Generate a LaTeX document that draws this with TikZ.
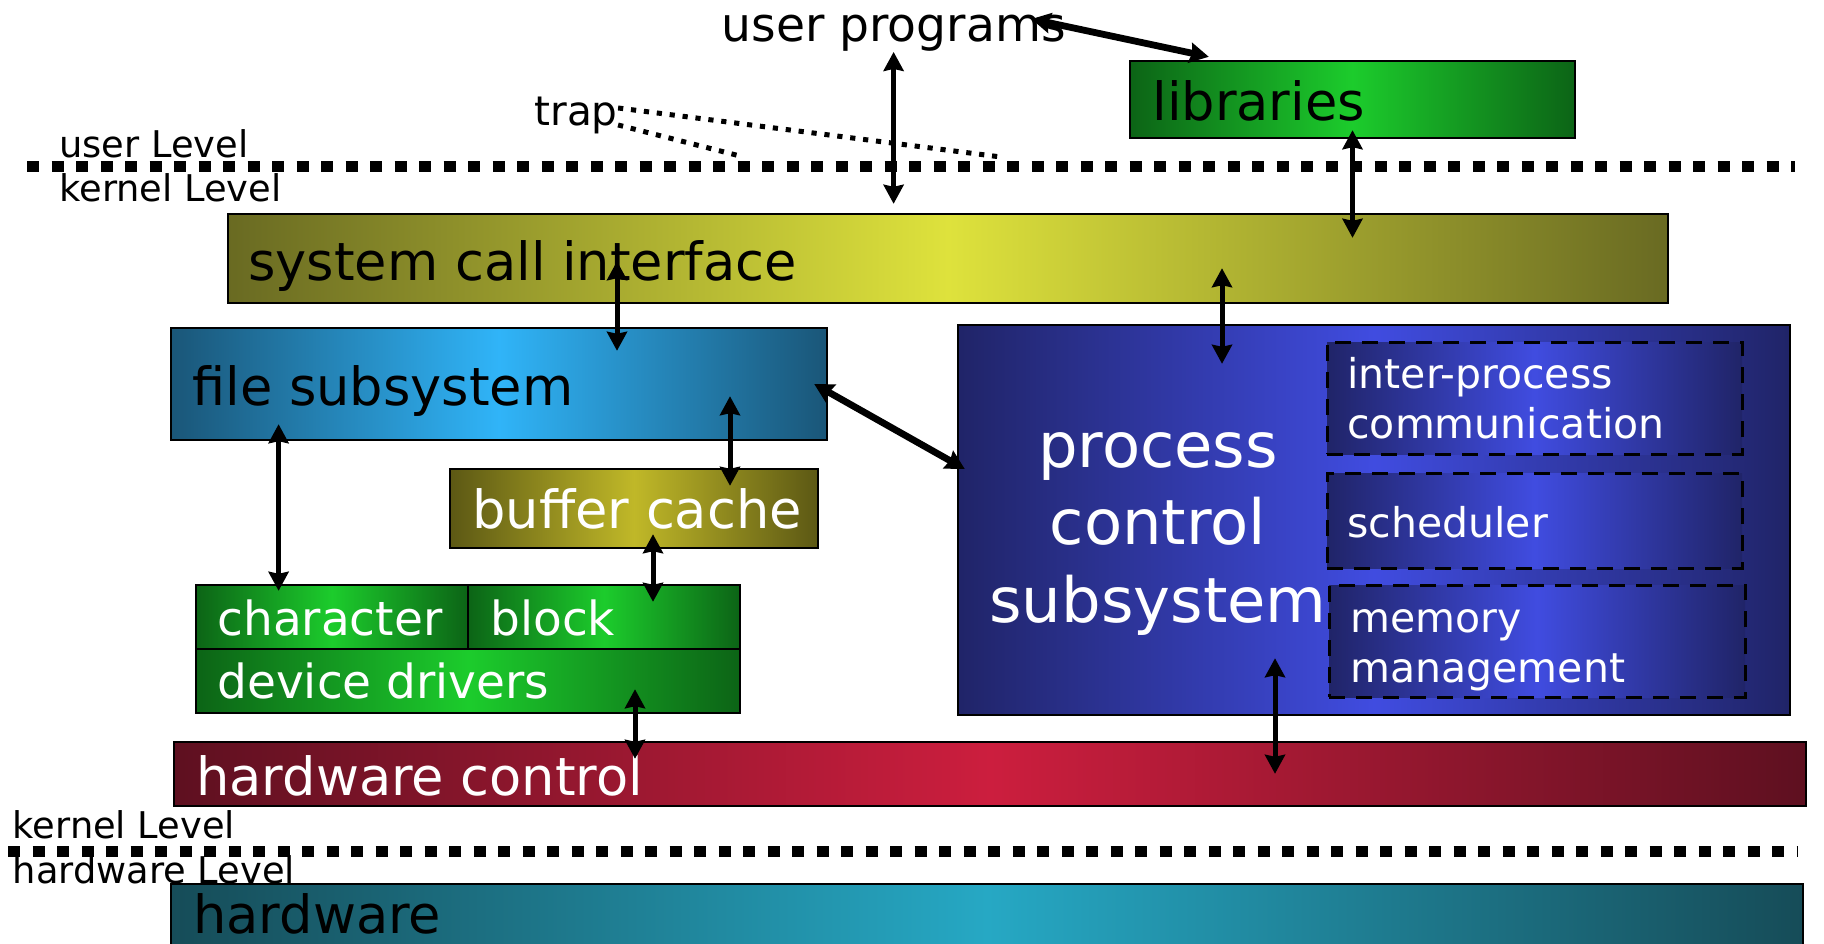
\documentclass[tikz,border=0pt]{standalone}
\usepackage{fontspec}
\setmainfont{DejaVu Sans}
\usetikzlibrary{arrows.meta,fit}

\definecolor{libedge}{RGB}{12,100,22}  \definecolor{libmid}{RGB}{28,204,44}
\definecolor{sciedge}{RGB}{105,106,34} \definecolor{scimid}{RGB}{222,226,60}
\definecolor{fsedge}{RGB}{26,86,120}   \definecolor{fsmid}{RGB}{48,180,248}
\definecolor{bcedge}{RGB}{92,88,20}    \definecolor{bcmid}{RGB}{192,184,40}
\definecolor{pcsedge}{RGB}{32,36,104}  \definecolor{pcsmid}{RGB}{64,76,224}
\definecolor{hwcedge}{RGB}{94,16,32}   \definecolor{hwcmid}{RGB}{204,30,62}
\definecolor{hwedge}{RGB}{22,76,88}    \definecolor{hwmid}{RGB}{38,168,196}

\tikzset{
  box/.style={draw,line width=1.2pt,inner sep=0pt,
    left color=#1edge,right color=#1edge,middle color=#1mid},
  dashbox/.style={box=pcs,line width=1.5pt,dash pattern=on 8pt off 5.5pt},
  lbl/.style={inner sep=0pt,anchor=base west},
  biglbl/.style={lbl,font=\fontsize{26.3}{31}\selectfont},
  midlbl/.style={lbl,font=\fontsize{23.5}{28}\selectfont},
  sublbl/.style={lbl,align=left,text=white,font=\fontsize{20.5}{25}\selectfont},
  lvllbl/.style={lbl,font=\fontsize{18.4}{22}\selectfont},
  dbl/.style={line width=2.5pt,>={Stealth[length=9.5pt,width=10pt,inset=1pt]},<->},
  dblthick/.style={dbl,line width=3.4pt},
  leveldots/.style={line width=5.5pt,dash pattern=on 6pt off 6.25pt},
  trapdots/.style={line width=2.5pt,dash pattern=on 2.6pt off 3.9pt},
}

\begin{document}
\begin{tikzpicture}[x=0.5pt,y=-0.5pt]
\useasboundingbox (0,0) rectangle (1824,943);

% levels
\draw[leveldots] (27,166.7) -- (1795,166.7);
\draw[leveldots] (8,851.7) -- (1797,851.7);
\node[lvllbl] (userlvl) at (59,157) {user Level};
\node[lvllbl] (kernlvl) at (59,201) {kernel Level};
\node[lvllbl] (kernlvlb) at (12.5,838) {kernel Level};
\node[lvllbl] (hwlvl) at (12.5,883) {hardware Level};

% user side
\node[lbl,anchor=base,font=\fontsize{23.6}{28}\selectfont] (prog) at (893.6,41.7) {user programs};
\node[lbl,font=\fontsize{20.3}{24}\selectfont] (trap) at (534,125) {trap};
\node[box=lib,fit={(1130,61) (1575,138)}] (lib) {};
\node[biglbl] (libtxt) at (1152,120) {libraries};

% kernel boxes
\node[box=sci,fit={(228,214) (1668,303)}] (sci) {};
\node[biglbl] (scitxt) at (248,280) {system call interface};
\node[box=fs,fit={(171,328) (827,440)}] (fs) {};
\node[biglbl] (fstxt) at (192,405) {file subsystem};
\node[box=bc,fit={(450,469) (818,548)}] (bc) {};
\node[biglbl,text=white] (bctxt) at (472,528) {buffer cache};
\node[box=lib,fit={(196,585) (468,649)}] (chr) {};
\node[box=lib,fit={(468,585) (740,649)}] (blk) {};
\node[box=lib,fit={(196,649) (740,713)}] (dd) {};
\node[midlbl,text=white] (chrtxt) at (217,635) {character};
\node[midlbl,text=white] (blktxt) at (490,635) {block};
\node[midlbl,text=white] (ddtxt) at (217,698) {device drivers};
\node[box=pcs,fit={(958,325) (1790,715)}] (pcs) {};
\node[lbl,anchor=base,align=center,text=white,font=\fontsize{31.2}{38.75}\selectfont]
  (pcstxt) at (1158,622) {process\\control\\subsystem};
\node[dashbox,fit={(1327,342) (1742,454)}] (ipc) {};
\node[dashbox,fit={(1327,473) (1742,568)}] (sch) {};
\node[dashbox,fit={(1329,585) (1745,697)}] (mem) {};
\node[sublbl] (ipctxt) at (1347,438) {inter-process\\communication};
\node[sublbl] (schtxt) at (1347,537) {scheduler};
\node[sublbl] (memtxt) at (1350,682) {memory\\management};
\node[box=hwc,fit={(174,742) (1806,806)}] (hwc) {};
\node[biglbl,text=white] (hwctxt) at (196,795) {hardware control};

% hardware
\node[box=hw,fit={(171,884) (1803,980)}] (hw) {};
\node[biglbl] (hwtxt) at (193,933) {hardware};

% trap lines
\coordinate (trapfar) at (1001,157);
\coordinate (trapnear) at (740,156);
\draw[trapdots] ([yshift=3.5pt]trap.east) -- (trapfar);
\draw[trapdots] ([yshift=-5pt]trap.east) -- (trapnear);

% arrows
\coordinate (fs-sci) at ([xshift=59pt]fs.north);
\coordinate (pcs-sci) at ([xshift=-76pt]pcs.north);
\coordinate (bc-fs) at ([xshift=48pt]bc.north);
\coordinate (chr-fs) at ([xshift=-26.7pt]chr.north);
\coordinate (blk-bc) at ([xshift=24.5pt]blk.north);
\coordinate (hwc-dd) at ([xshift=83.5pt]dd.south);
\coordinate (hwc-pcs) at ([xshift=-49.5pt]pcs.south);
\draw[dbl,shorten >=4.5pt] (prog.south) -- (prog.south |- sci.north);
\draw[dblthick] ([shift={(-17.3pt,7.2pt)}]prog.east) -- ([shift={(40pt,1.5pt)}]lib.north west);
\draw[dbl,shorten <=-4.5pt,shorten >=-12.5pt] (lib.south) -- (lib.south |- sci.north);
\draw[dbl,shorten <=-21.5pt,shorten >=-12pt] (fs-sci |- sci.south) -- (fs-sci);
\draw[dbl,shorten <=-18pt,shorten >=-20pt] (pcs-sci |- sci.south) -- (pcs-sci);
\draw[dblthick] ([xshift=-7pt]fs.east) -- ([shift={(4pt,25.5pt)}]pcs.west);
\draw[dbl,shorten <=-22.5pt,shorten >=-9pt] (bc-fs |- fs.south) -- (bc-fs);
\draw[dbl,shorten <=-8.5pt,shorten >=-3.5pt] (chr-fs |- fs.south) -- (chr-fs);
\draw[dbl,shorten <=-7.5pt,shorten >=-9pt] (blk-bc |- bc.south) -- (blk-bc);
\draw[dbl,shorten <=-12.5pt,shorten >=-9pt] (hwc-dd) -- (hwc-dd |- hwc.north);
\draw[dbl,shorten <=-29pt,shorten >=-16.5pt] (hwc-pcs) -- (hwc-pcs |- hwc.north);
\end{tikzpicture}
\end{document}
